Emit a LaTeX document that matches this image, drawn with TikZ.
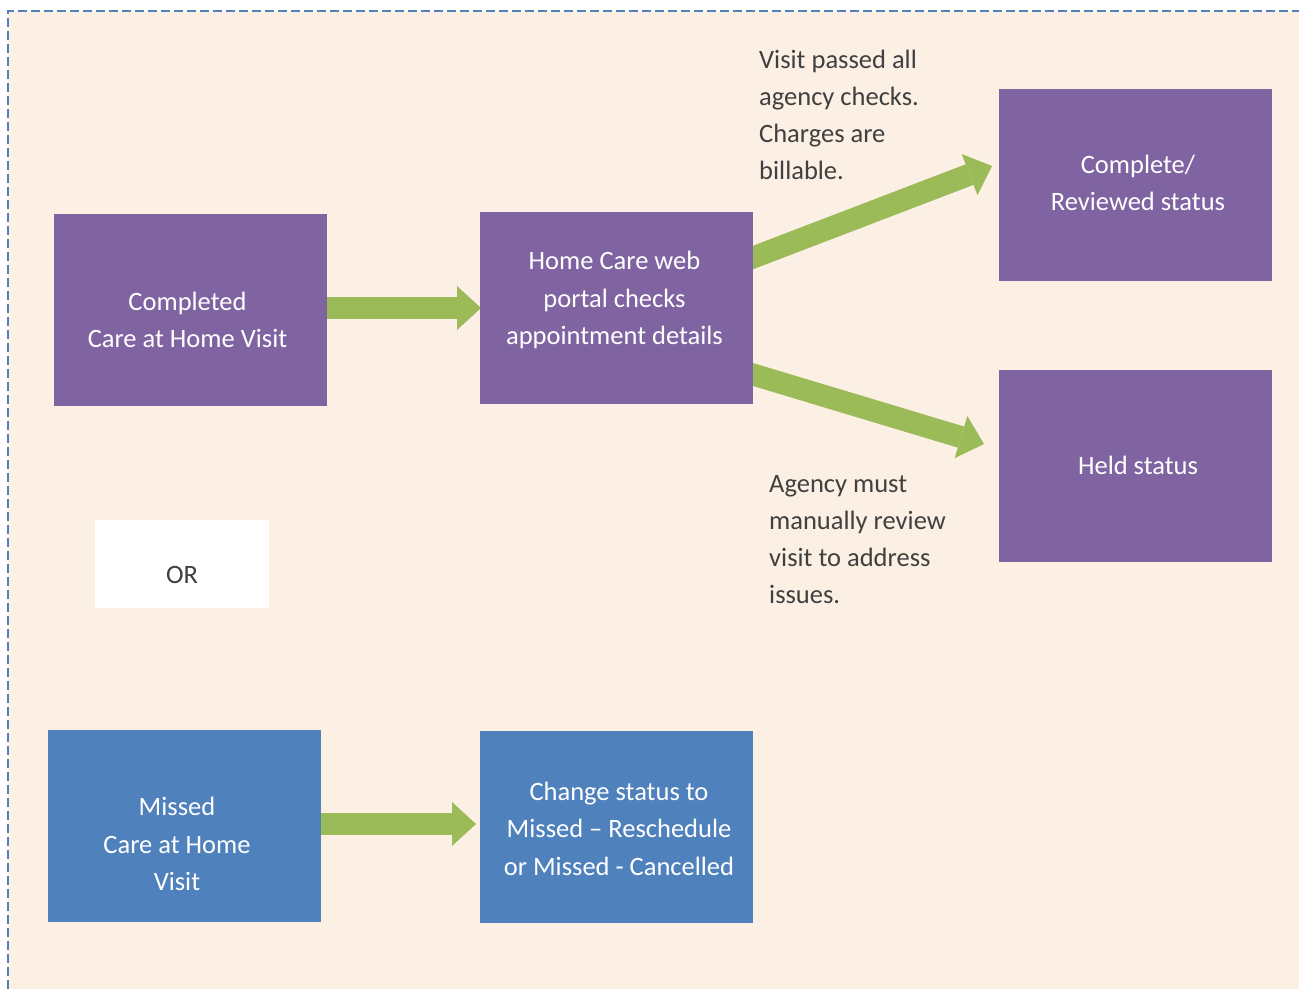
\documentclass[tikz,border=0pt]{standalone}
\usepackage{fontspec}
\setmainfont{Carlito}
\usetikzlibrary{arrows.meta,calc}
\definecolor{peach}{HTML}{FCEFE3}
\definecolor{purp}{HTML}{8064A2}
\definecolor{blu}{HTML}{4F81BD}
\definecolor{grn}{HTML}{9BBB59}
\definecolor{txtgray}{HTML}{404040}
\definecolor{dashblue}{HTML}{4F81BD}
\pgfdeclarelayer{back}\pgfdeclarelayer{arr}\pgfsetlayers{back,arr,main}
\newcommand\tst{\rule[-0.25em]{0pt}{1em}}
\begin{document}
\begin{tikzpicture}[x=1pt,y=-1pt,
 box/.style={draw=none,minimum width=273pt,minimum height=192pt,inner sep=0pt,outer sep=0pt},
 pbox/.style={box,fill=purp},
 bbox/.style={box,fill=blu},
 intext/.style={text=white,font=\fontsize{26.5}{37.5}\selectfont,align=center,inner sep=0pt},
 note/.style={text=txtgray,font=\fontsize{26.5}{37.3}\selectfont,align=left,inner sep=0pt,anchor=north west},
 flow/.style={draw=grn,line width=22pt,-{Triangle[width=44pt,length=24pt,line width=0pt]}}]
\useasboundingbox (0,0) rectangle (1299,989);
\begin{pgfonlayer}{back}
\fill[white] (0,0) rectangle (1299,989);
\fill[peach] (8,11) rectangle (1299,989);
\draw[dashblue,line width=2pt,dash pattern=on 9pt off 4pt] (8,989) -- (8,11) -- (1299,11);
\end{pgfonlayer}
% boxes
\node[pbox] (c1) at (190.5,310) {};
\node[pbox] (hc) at (616.5,308) {};
\node[pbox] (cr) at (1135.5,185) {};
\node[pbox] (hs) at (1135.5,466) {};
\node[box,fill=white,minimum width=174pt,minimum height=88pt] (or) at (182,564) {};
\node[bbox] (ms) at (184.5,826) {};
\node[bbox] (cs) at (616.5,827) {};
% texts
\node[intext] (c1t) at (187.5,322.6) {\tst Completed\\Care at Home Visit\tst};
\node[intext] (hct) at (614.5,300.5) {\tst Home Care web\\portal checks\\appointment details\tst};
\node[intext] (crt) at (1138,185.5) {\tst Complete/\\Reviewed status\tst};
\node[intext] (hst) at (1138,467.5) {\tst Held status\tst};
\node[intext,text=txtgray] (ort) at (182,577) {\tst OR\tst};
\node[intext] (mst) at (177,846.5) {\tst Missed\\Care at Home\\Visit\tst};
\node[intext] (cst) at (619,831) {\tst Change status to\\Missed -- Reschedule\\or Missed - Cancelled\tst};
\node[note] (n1) at (759,48) {\tst Visit passed all\\agency checks.\\Charges are\\billable.\tst};
\node[note] (n2) at (769,472) {\tst Agency must\\manually review\\visit to address\\issues.\tst};
% connector end points
\coordinate (a1s) at ([xshift=-6pt,yshift=2pt]c1.east);
\coordinate (a1e) at ([xshift=1pt]hc.west);
\coordinate (a2s) at ([xshift=-6pt,yshift=2pt]ms.east);
\coordinate (a2e) at ([xshift=-4pt,yshift=3pt]cs.west);
\coordinate (us) at ([yshift=50.5pt]hc.east);
\coordinate (ue) at ([xshift=-7pt,yshift=19pt]cr.west);
\coordinate (ls) at ([yshift=-66.5pt]hc.east);
\coordinate (le) at ([xshift=-15pt,yshift=22pt]hs.west);
\begin{pgfonlayer}{arr}
\draw[flow] (a1s) -- (a1e);
\draw[flow] (a2s) -- (a2e);
\draw[flow] ($(us)!-20pt!(ue)$) -- (ue);
\draw[flow] ($(ls)!-20pt!(le)$) -- (le);
\end{pgfonlayer}
\end{tikzpicture}
\end{document}
